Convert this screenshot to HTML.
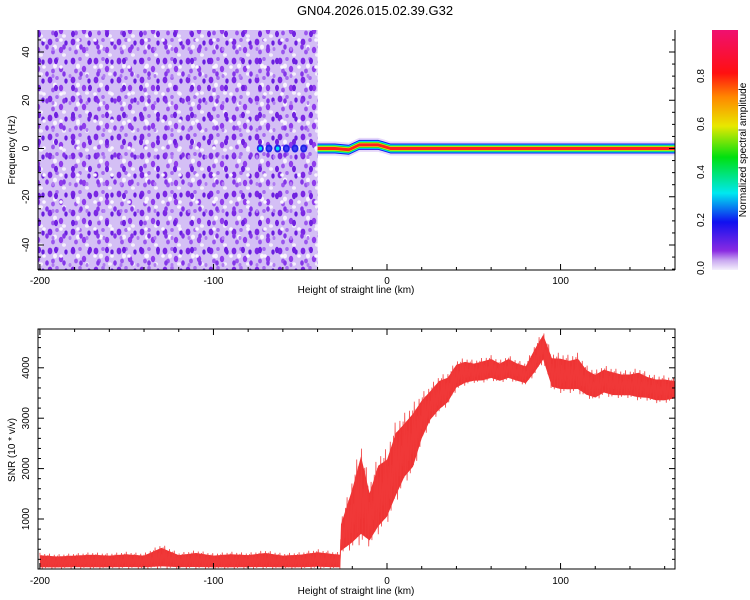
<!DOCTYPE html>
<html><head><meta charset="utf-8"><style>
body{margin:0;background:#fff}
svg{display:block;font-family:"Liberation Sans",sans-serif}
</style></head><body>
<svg id="chart" width="750" height="600" viewBox="0 0 750 600">
<defs>
<linearGradient id="cbar" x1="0" y1="1" x2="0" y2="0">
<stop offset="0" stop-color="#f4f0fc"/><stop offset="0.04" stop-color="#c9a8f0"/><stop offset="0.08" stop-color="#8a2be2"/>
<stop offset="0.2" stop-color="#1010f0"/><stop offset="0.32" stop-color="#00e8f0"/><stop offset="0.47" stop-color="#00e010"/>
<stop offset="0.6" stop-color="#e8e800"/><stop offset="0.72" stop-color="#ff8800"/><stop offset="0.82" stop-color="#ff1010"/><stop offset="1" stop-color="#f01070"/>
</linearGradient>
<pattern id="speck" width="23" height="19" patternUnits="userSpaceOnUse">
<rect width="23" height="19" fill="#d4bff5"/>
<ellipse cx="4" cy="4" rx="2.4" ry="3.4" fill="#7b28e4"/>
<ellipse cx="15" cy="12" rx="2.2" ry="3.2" fill="#8f3cec"/>
<ellipse cx="11" cy="2" rx="1.8" ry="2" fill="#a56af0"/>
<ellipse cx="20" cy="5" rx="1.7" ry="2.6" fill="#6a1ee0"/>
<ellipse cx="7" cy="14" rx="1.9" ry="2.4" fill="#9a55ee"/>
<ellipse cx="18" cy="17" rx="2" ry="1.8" fill="#f4eefc"/>
<ellipse cx="9" cy="9" rx="2" ry="2.4" fill="#f7f2fd"/>
</pattern>
<pattern id="speck2" width="17" height="27" patternUnits="userSpaceOnUse">
<ellipse cx="5" cy="7" rx="2" ry="3.2" fill="#7020e0"/>
<ellipse cx="13" cy="20" rx="1.8" ry="2.7" fill="#8436e8"/>
<ellipse cx="10" cy="13" rx="1.8" ry="1.8" fill="#faf6ff"/>
<ellipse cx="2" cy="22" rx="1.5" ry="2" fill="#b07cf2"/>
</pattern>
</defs>
<text x="375" y="15" font-size="13" text-anchor="middle">GN04.2026.015.02.39.G32</text>
<g id="top"></g>
<g id="bot"></g>
<g id="cb"></g>
</svg>
<script>
// ---- data ----
const xTicks=[-200,-100,0,100];
const freqTicks=[40,20,0,-20,-40];
const snrTicks=[1000,2000,3000,4000];
const cbTicks=[0.0,0.2,0.4,0.6,0.8];
const cbTickLabels=["0.0","0.2","0.4","0.6","0.8"];
const noiseRange=[-201,-40];
const ridgeKm=[-40,-30,-22,-16,-5,2,80,90,166];
const ridgeFreq=[0,0,-0.5,1.5,1.5,0,0,0,0];
const blobKm=[-73,-68,-63,-58,-53,-48];
const blobAmp=[0.3,0.25,0.3,0.2,0.2,0.2];
const snrKm=[-200,-190,-180,-170,-160,-150,-140,-130,-120,-110,-100,-90,-80,-70,-60,-50,-40,-30,-27,-26.5,-20,-15,-10,-5,0,5,10,15,20,25,30,35,40,45,50,55,60,65,70,75,80,85,90,95,100,105,110,115,120,125,130,135,140,145,150,155,160,166];
const snrLow=[10,10,15,10,10,15,10,10,15,10,10,10,15,10,10,10,15,10,10,300,400,500,450,700,900,1300,1700,1900,2500,2900,3100,3250,3550,3650,3700,3700,3750,3700,3750,3700,3650,3850,4100,3550,3500,3500,3500,3400,3350,3450,3400,3400,3400,3350,3350,3300,3300,3350];
const snrHigh=[330,300,320,340,320,350,320,500,330,380,320,350,330,380,320,340,400,350,340,1000,1800,2550,1700,2300,2400,2950,3100,3300,3500,3650,3850,3900,4150,4200,4150,4200,4250,4150,4250,4150,4100,4450,4750,4300,4300,4250,4300,4050,3950,4050,4000,3950,3950,4000,3900,3850,3850,3800];
// ---- scales ----
const NS="http://www.w3.org/2000/svg";
const X0=38,X1=675;
const xs=v=>387+(v)*1.7355;
const fy=v=>148.5-v*2.4125;
const sy=v=>569.4-v*0.0504;
const cy=v=>268-v*240;
function mk(tag,attrs,parent,text){const e=document.createElementNS(NS,tag);for(const k in attrs)e.setAttribute(k,attrs[k]);if(text!==undefined)e.textContent=text;parent.appendChild(e);return e;}
const gTop=document.getElementById('top'),gBot=document.getElementById('bot'),gCb=document.getElementById('cb');
// ---- spectrogram ----
let noise=mk('rect',{x:xs(noiseRange[0]),y:30,width:xs(noiseRange[1])-xs(noiseRange[0]),height:240,fill:'url(#speck)'},gTop);


let noise2=mk('rect',{x:xs(noiseRange[0]),y:30,width:xs(noiseRange[1])-xs(noiseRange[0]),height:240,fill:'url(#speck2)'},gTop);


blobKm.forEach((k,i)=>{
  const b=mk('ellipse',{cx:xs(k),cy:fy(0),rx:3.5,ry:4,fill:'#2020e8'},gTop);
  
  
  mk('ellipse',{cx:xs(k),cy:fy(0),rx:1.8,ry:2,fill:blobAmp[i]>0.25?'#00e0f0':'#4040f0'},gTop);
});
const layers=[[7,'#e6d8fa'],[5,'#1818f0'],[4,'#00d8f0'],[3,'#20e020'],[2.2,'#e8e800'],[1.5,'#ff2020']];
function ridgePath(h){
  let up='',dn='';
  ridgeKm.forEach((k,i)=>{up+=(i?'L':'M')+xs(k)+','+(fy(ridgeFreq[i])-h);});
  for(let i=ridgeKm.length-1;i>=0;i--){dn+='L'+xs(ridgeKm[i])+','+(fy(ridgeFreq[i])+h);}
  return up+dn+'Z';
}
layers.forEach(([h,c])=>{
  const p=mk('path',{d:ridgePath(h),fill:c},gTop);
  
  
});
mk('line',{x1:X0,y1:30,x2:X0,y2:270,stroke:'#000'},gTop);
mk('line',{x1:X0,y1:270,x2:X1,y2:270,stroke:'#000'},gTop);
mk('line',{x1:X1,y1:30,x2:X1,y2:270,stroke:'#000'},gTop);
for(let v=-200;v<=160;v+=20){const l=v%100===0?6:3;mk('line',{x1:xs(v),y1:270,x2:xs(v),y2:270-l,stroke:'#000'},gTop);}
for(let v=-50;v<=45;v+=5){const l=v%20===0?6:3;mk('line',{x1:X0,y1:fy(v),x2:X0+l,y2:fy(v),stroke:'#000'},gTop);mk('line',{x1:X1,y1:fy(v),x2:X1-l,y2:fy(v),stroke:'#000'},gTop);}
xTicks.forEach(v=>{const t=mk('text',{x:xs(v),y:284,'font-size':10,'text-anchor':'middle'},gTop,String(v));

});
freqTicks.forEach(v=>{const t=mk('text',{x:0,y:0,'font-size':10,'text-anchor':'middle',transform:`translate(29,${fy(v)}) rotate(-90)`},gTop,String(v));

});
let t1=mk('text',{x:356,y:293,'font-size':10,'text-anchor':'middle'},gTop,'Height of straight line (km)');


let t2=mk('text',{x:0,y:0,'font-size':10,'text-anchor':'middle',transform:'translate(15,150) rotate(-90)'},gTop,'Frequency (Hz)');


// ---- colorbar ----
let cr=mk('rect',{x:712,y:30,width:26,height:240,fill:'url(#cbar)'},gCb);


cbTicks.forEach((v,i)=>{const t=mk('text',{x:0,y:0,'font-size':10,'text-anchor':'middle',transform:`translate(704,${cy(v)}) rotate(-90)`},gCb,cbTickLabels[i]);

});
let ct=mk('text',{x:0,y:0,'font-size':10,'text-anchor':'middle',transform:'translate(746,150) rotate(-90)'},gCb,'Normalized spectral amplitude');


// ---- SNR ----
function interp(arr,k){
  for(let i=0;i<snrKm.length-1;i++){if(k>=snrKm[i]&&k<=snrKm[i+1]){const f=(k-snrKm[i])/(snrKm[i+1]-snrKm[i]);return arr[i]+(arr[i+1]-arr[i])*f;}}
  return arr[arr.length-1];
}
let d='';
snrKm.forEach((k,i)=>{const lo=snrLow[i],hi=snrHigh[i];d+=(i?'L':'M')+xs(k).toFixed(1)+','+sy(lo+(hi-lo)*0.85).toFixed(1);});
for(let i=snrKm.length-1;i>=0;i--){const lo=snrLow[i],hi=snrHigh[i];d+='L'+xs(snrKm[i]).toFixed(1)+','+Math.min(569,sy(lo+(hi-lo)*0.1)).toFixed(1);}
let band=mk('path',{d:d+'Z',fill:'#ee3333'},gBot);


const mixSeq=[1,0.15,0.85,0,0.7,0.25,0.95,0.05,0.6,0.3,0.9,0.1];
let zp='';let j=0;
for(let px=xs(snrKm[0]);px<=xs(snrKm[snrKm.length-1]);px+=0.8,j++){
  const k=(px-387)/1.7355;
  const lo=interp(snrLow,k),hi=interp(snrHigh,k);
  const v=lo+(hi-lo)*mixSeq[j%mixSeq.length];
  zp+=(j?'L':'M')+px.toFixed(1)+','+Math.min(569,sy(v)).toFixed(1);
}
let line=mk('path',{d:zp,fill:'none',stroke:'#f03a3a','stroke-width':0.9,'stroke-opacity':0.85},gBot);


mk('rect',{x:X0,y:329,width:X1-X0,height:240,fill:'none',stroke:'#000'},gBot);
for(let v=-200;v<=160;v+=20){const l=v%100===0?6:3;mk('line',{x1:xs(v),y1:569,x2:xs(v),y2:569-l,stroke:'#000'},gBot);mk('line',{x1:xs(v),y1:329,x2:xs(v),y2:329+l,stroke:'#000'},gBot);}
for(let v=200;v<=4600;v+=200){const l=v%1000===0?6:3;mk('line',{x1:X0,y1:sy(v),x2:X0+l,y2:sy(v),stroke:'#000'},gBot);mk('line',{x1:X1,y1:sy(v),x2:X1-l,y2:sy(v),stroke:'#000'},gBot);}
xTicks.forEach(v=>{const t=mk('text',{x:xs(v),y:584,'font-size':10,'text-anchor':'middle'},gBot,String(v));

});
snrTicks.forEach(v=>{const t=mk('text',{x:0,y:0,'font-size':10,'text-anchor':'middle',transform:`translate(29,${sy(v)}) rotate(-90)`},gBot,String(v));

});
let t3=mk('text',{x:356,y:594,'font-size':10,'text-anchor':'middle'},gBot,'Height of straight line (km)');


let t4=mk('text',{x:0,y:0,'font-size':10,'text-anchor':'middle',transform:'translate(15,450) rotate(-90)'},gBot,'SNR (10 * v/v)');


</script>
</body></html>
